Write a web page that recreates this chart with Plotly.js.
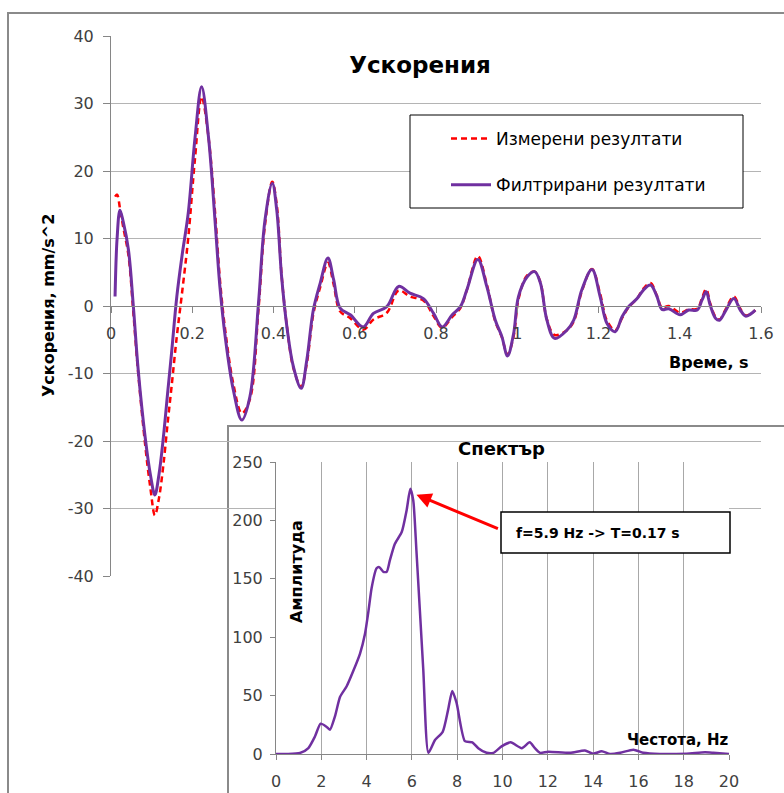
<!DOCTYPE html>
<html><head><meta charset="utf-8">
<script src="https://cdn.plot.ly/plotly-3.0.1.min.js"></script>
<style>html,body{margin:0;padding:0;background:#fff;}#chart{width:784px;height:793px;}</style>
</head><body><div id="chart"></div>
<script>
const time = [0.01,0.015,0.022,0.03,0.043,0.055,0.067,0.084,0.097,0.108,0.118,0.129,0.14,0.149,0.162,0.175,0.19,0.207,0.223,0.24,0.256,0.268,0.281,0.301,0.322,0.342,0.363,0.379,0.397,0.408,0.42,0.433,0.449,0.468,0.482,0.498,0.515,0.534,0.548,0.564,0.589,0.621,0.646,0.679,0.708,0.736,0.769,0.794,0.815,0.84,0.86,0.876,0.903,0.925,0.946,0.962,0.976,0.991,1.003,1.024,1.043,1.057,1.073,1.092,1.122,1.139,1.159,1.184,1.204,1.221,1.241,1.258,1.274,1.295,1.311,1.328,1.344,1.356,1.373,1.401,1.422,1.443,1.455,1.465,1.475,1.488,1.498,1.512,1.533,1.549,1.562,1.574,1.586];
const measured = [16.2,16.5,14.5,11.7,7.5,-1,-10,-20.5,-27,-31,-28.5,-23.5,-17,-12,-4.5,2,10,22,31,25,14,4,-3.5,-11.5,-15.9,-13.8,-0.5,12,18.4,15,4.5,-3,-9.2,-12,-8.5,-1.2,2.8,6.4,3.2,-0.8,-1.8,-3.5,-2,-1,2.3,1.4,0.8,-1.5,-3.2,-1.6,-0.3,2.4,7.4,3.2,-2.3,-4.6,-7.2,-4.5,1,4.5,5.1,3.5,-2,-4.3,-3.6,-2.3,2.2,5.5,1.8,-2.2,-3.6,-1.8,-0.2,1.1,2.6,3.4,1.5,-0.2,0,-1.0,-0.5,-0.4,1.2,2.5,0.4,-1.6,-2,-0.6,1.4,-0.4,-1.4,-1.2,-0.6];
const filtered = [1.4,10,14.2,12.5,8.3,0,-9.5,-19.4,-25,-28,-25,-19.4,-12.5,-7,1.4,7.5,13.7,25,32.5,25,12.7,2.9,-4.5,-12.4,-16.9,-13.4,0.4,12.7,18.2,14.2,4.3,-3.1,-9,-12.2,-8,-0.6,3.4,7.1,3.9,-0.3,-1.3,-3.1,-1.1,-0.1,2.9,1.9,1.1,-1.1,-3.1,-1.3,-0.1,2.4,6.9,2.9,-2.1,-4.5,-7.4,-4.1,1.4,4.3,5.1,3.4,-2.1,-4.8,-3.6,-2.1,2.4,5.4,1.4,-2.6,-3.8,-1.6,-0.1,1.1,2.4,3.1,1.4,-0.5,-0.4,-1.3,-0.6,-0.6,0.9,2.1,0.1,-1.8,-2.1,-0.8,1.1,-0.6,-1.5,-1.2,-0.6];
const freq = [0,0.5,1.06,1.43,1.72,1.97,2.21,2.38,2.6,2.83,3.12,3.41,3.71,3.93,4.08,4.22,4.44,4.56,4.74,4.89,5.03,5.25,5.55,5.77,5.93,6.06,6.2,6.5,6.73,7.02,7.36,7.6,7.78,7.97,8.34,8.67,8.93,9.3,9.6,9.96,10.36,10.85,11.2,11.43,11.66,12.02,12.98,13.64,14.0,14.38,14.75,15.19,15.78,16.22,16.95,18.13,18.94,19.31,20];
const amplitude = [0,0,0.9,5.1,15,26,23.6,20.8,32,49,58,71,86,103,122,142,159,160,156,156,166,180,190,209,227,217,174,73,1,12,19,38,54,44,11,10,5,1,1,6.5,10,5,10,5,1,2,1,3,0.3,2.3,0,1,3.7,1,0,0.3,1.4,1,0];
const seriesNames = ['Измерени резултати','Филтрирани резултати'];
const mainYTickVals = [-40,-30,-20,-10,0,10,20,30,40];
const mainYTickText = ['-40','-30','-20','-10','0','10','20','30','40'];
const mainXTickVals = [0,0.2,0.4,0.6,0.8,1,1.2,1.4,1.6];
const mainXTickText = ['0','0.2','0.4','0.6','0.8','1','1.2','1.4','1.6'];
const mainTitle = 'Ускорения';
const mainXTitle = 'Време, s';
const mainYTitle = 'Ускорения, mm/s^2';
const insetTitle = 'Спектър';
const insetXTitle = 'Честота, Hz';
const insetYTitle = 'Амплитуда';
const peakNote = 'f=5.9 Hz -> T=0.17 s';
const peakPoint = [6.2, 222];
const noteAnchor = [9.93, 191.8];

const W = 784, H = 793;
const px = x => x / W;
const py = y => 1 - y / H;
const FONT = 'DejaVu Sans';
const tickFont = {family: FONT, size: 16, color: '#404040'};
const gray = '#868686';

const traces = [
  {x: time, y: measured, name: seriesNames[0], type: 'scatter', mode: 'lines', xaxis: 'x', yaxis: 'y',
   legendgroup: 'a', line: {color: '#ff0000', width: 2.5, dash: '6px,4px', shape: 'spline', smoothing: 1}},
  {x: time, y: filtered, name: seriesNames[1], type: 'scatter', mode: 'lines', xaxis: 'x', yaxis: 'y',
   legendgroup: 'b', line: {color: '#7030a0', width: 3, shape: 'spline', smoothing: 1}},
  {x: freq, y: amplitude, type: 'scatter', mode: 'lines', xaxis: 'x2', yaxis: 'y2', showlegend: false,
   line: {color: '#7030a0', width: 2.5, shape: 'spline', smoothing: 0.6}}
];

const layout = {
  width: W, height: H,
  margin: {l: 0, r: 0, t: 0, b: 0},
  paper_bgcolor: '#ffffff', plot_bgcolor: '#ffffff',
  showlegend: true,
  title: {text: mainTitle, x: px(420), y: py(65), xanchor: 'center', yanchor: 'middle', xref: 'paper', yref: 'paper',
          font: {family: FONT, size: 23, weight: 'bold', color: '#000'}},
  xaxis: {domain: [px(111), px(761)], range: [0, 1.6], anchor: 'free', position: py(306),
          showline: true, linecolor: gray, linewidth: 1, ticks: 'outside', ticklen: 6, tickcolor: gray,
          tickvals: mainXTickVals, ticktext: mainXTickText, ticklabelstandoff: 7,
          showgrid: false, zeroline: false, tickfont: tickFont},
  yaxis: {domain: [py(576), py(36)], range: [-40, 40], anchor: 'x',
          tickvals: mainYTickVals, ticktext: mainYTickText, ticklabelstandoff: 6,
          showline: true, linecolor: gray, linewidth: 1, ticks: 'outside', ticklen: 7, tickcolor: gray,
          showgrid: true, gridcolor: '#b4b4b4', gridwidth: 1, zeroline: false, tickfont: tickFont},
  xaxis2: {domain: [px(276), px(729)], range: [0, 20], dtick: 2, anchor: 'y2', ticklabelstandoff: 8,
           showline: true, linecolor: gray, linewidth: 1, ticks: 'outside', ticklen: 5, tickcolor: gray,
           showgrid: true, gridcolor: '#a8a8a8', zeroline: false, tickfont: tickFont},
  yaxis2: {domain: [py(754), py(462)], range: [0, 250], dtick: 50, anchor: 'x2', ticklabelstandoff: 4,
           showline: true, linecolor: gray, linewidth: 1, ticks: 'outside', ticklen: 5, tickcolor: gray,
           showgrid: false, zeroline: false, tickfont: tickFont},
  legend: {x: px(446), y: py(121), xanchor: 'left', yanchor: 'top', bgcolor: 'rgba(0,0,0,0)', borderwidth: 0,
           font: {family: FONT, size: 17, color: '#000'}, traceorder: 'grouped', tracegroupgap: 21, itemwidth: 40},
  shapes: [
    {type: 'rect', xref: 'paper', yref: 'paper', x0: px(8), x1: 1.05, y0: -0.05, y1: py(13),
     line: {color: '#8a8a8a', width: 2}, fillcolor: 'rgba(0,0,0,0)', layer: 'below'},
    {type: 'rect', xref: 'paper', yref: 'paper', x0: px(410), x1: px(743), y0: py(208), y1: py(115),
     line: {color: '#000', width: 1}, fillcolor: '#ffffff', layer: 'above'},
    {type: 'rect', xref: 'x2 domain', yref: 'y2 domain', x0: (228 - 276) / 453, x1: (800 - 276) / 453,
     y0: (754 - 810) / 292, y1: (754 - 426) / 292,
     line: {color: '#8a8a8a', width: 2}, fillcolor: '#ffffff', layer: 'below'},
    {type: 'rect', xref: 'paper', yref: 'paper', x0: px(501), x1: px(730), y0: py(553), y1: py(512),
     line: {color: '#000', width: 1.5}, fillcolor: '#ffffff', layer: 'above'}
  ],
  annotations: [
    {text: mainYTitle, xref: 'paper', yref: 'paper', x: px(48), y: py(306), xanchor: 'center', yanchor: 'middle',
     textangle: -90, showarrow: false, font: {family: FONT, size: 16, weight: 'bold', color: '#000'}},
    {text: mainXTitle, xref: 'paper', yref: 'paper', x: px(751), y: py(362), xanchor: 'right', yanchor: 'middle',
     showarrow: false, font: {family: FONT, size: 16, weight: 'bold', color: '#000'}},
    {text: insetTitle, xref: 'paper', yref: 'paper', x: px(502), y: py(448), xanchor: 'center', yanchor: 'middle',
     showarrow: false, font: {family: FONT, size: 18, weight: 'bold', color: '#000'}},
    {text: insetYTitle, xref: 'paper', yref: 'paper', x: px(296), y: py(572), xanchor: 'center', yanchor: 'middle',
     textangle: -90, showarrow: false, font: {family: FONT, size: 16, weight: 'bold', color: '#000'}},
    {text: insetXTitle, xref: 'paper', yref: 'paper', x: px(730), y: py(740), xanchor: 'right', yanchor: 'middle',
     showarrow: false, font: {family: FONT, size: 15, weight: 'bold', color: '#000'}},
    {text: peakNote, xref: 'paper', yref: 'paper', x: px(514), y: py(533), xanchor: 'left', yanchor: 'middle',
     showarrow: false, font: {family: FONT, size: 14, weight: 'bold', color: '#000'}},
    {text: ' ', xref: 'x2', yref: 'y2', x: peakPoint[0], y: peakPoint[1], axref: 'x2', ayref: 'y2',
     ax: noteAnchor[0], ay: noteAnchor[1], showarrow: true, arrowcolor: '#ff0000', arrowwidth: 3,
     arrowhead: 2, arrowsize: 1, standoff: 0}
  ]
};

Plotly.newPlot('chart', traces, layout, {displayModeBar: false, staticPlot: true});
</script></body></html>
